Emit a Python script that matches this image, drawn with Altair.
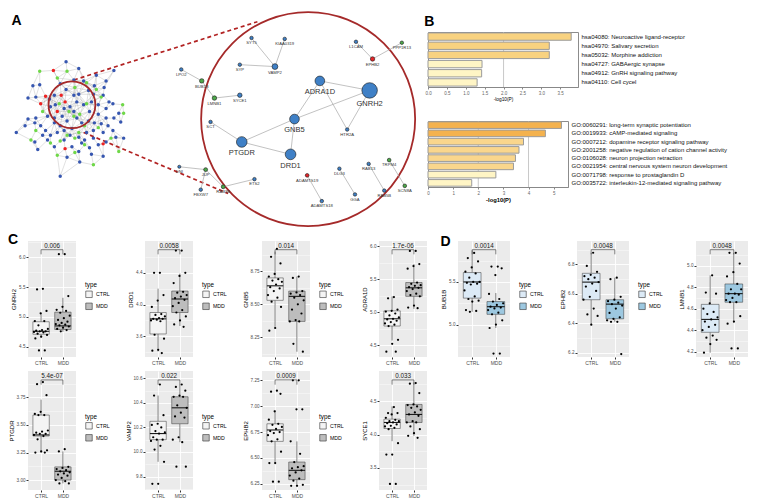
import altair as alt
import numpy as np
import pandas as pd

FONT = "Liberation Sans"

# ---------------- Panel A : PPI network (layout coordinates) ----------------
HAIR_BLUE = [(59,58),(72,65),(108,67),(90,72),(25,83),(32,82),(53,81),(59,87),(67,77),(77,78),
             (88,83),(98,85),(100,78),(20,96),(28,95),(42,97),(47,93),(67,93),(72,92),(82,88),
             (87,92),(97,93),(103,100),(43,105),(48,103),(57,107),(63,105),(70,100),(77,103),(85,100),
             (92,103),(100,107),(107,102),(113,112),(115,121),(108,117),(100,117),(92,113),(83,110),(67,110),
             (55,115),(47,117),(40,115),(28,117),(20,118),(17,125),(8,132),(27,122),(33,125),(38,130),
             (47,122),(53,125),(60,120),(70,117),(75,122),(82,120),(88,122),(95,123),(102,125),(107,130),
             (97,132),(87,130),(80,132),(65,128),(57,130),(50,132),(43,135),(40,140),(35,135),(27,142),
             (30,150),(47,147),(57,140),(63,135),(72,137),(78,140),(87,138),(92,145),(100,142),(110,137),
             (118,138),(75,143),(83,148),(65,147),(60,158),(72,152),(85,155),(97,157),(73,163),(53,178)]
HAIR_GREEN = [(32,68),(60,68),(50,75),(80,80),(68,85),(90,87),(52,102),(62,110),(80,102),(73,113),
              (67,115),(95,95),(117,103),(118,112),(35,110),(78,125),(92,127),(72,132),(28,130),(23,140),
              (43,143),(53,141),(60,135),(68,138),(78,145),(105,138),(113,152),(50,156),(68,153),(87,166)]
HAIR_RED = [(46,67),(38,94),(33,102),(54,93),(58,100),(50,110),(58,149),(97,144)]
HUB = (65, 103)          # centre of the highlighted cluster
ZOOM = (307, 118)        # centre of the enlarged view
DASH_FROM = [(67, 77), (77, 132)]
DASH_TO = [(255, 16), (225, 196)]

SUB_NAMES = ["SYT5","KIAA0319","SYP","VAMP2","L1CAM","EPHB2","PPP1R13","LPO2","BUB1B","LMNB1",
             "SYCE1","ADRA1D","GNRH2","HTR2A","GNB5","SCT","PTGDR","DRD1","ADAMTS19","ADAMTS18",
             "DLG3","GGA","RAB13","RAB5B","TRPM4","SCN8A","DNI","JUP","FBXW7","RAB3B","ETS2"]
SUB_X = [249,283,237,273,356,373,403,177,198,211,237,319,370,347,293,207,239,289,306,321,
         339,355,369,385,390,406,175,202,197,220,252]
SUB_Y = [33,34,61,63,37,55,38,66,78,96,93,78,88,129,118,121,142,155,177,204,
         170,197,165,193,161,188,168,171,192,189,181]
SUB_GROUP = ["blue","blue","blue","blue","blue","red","green","blue","green","green",
             "blue","blue","blue","blue","blue","blue","blue","blue","red","blue",
             "blue","blue","blue","blue","green","green","blue","green","blue","green","blue"]
SUB_RADIUS = [1.8,1.8,1.8,3.0,1.8,2.3,1.8,1.8,2.3,2.3,
              2.3,5.0,8.0,1.8,5.0,1.8,5.5,5.5,1.9,1.8,
              1.8,1.8,1.8,1.8,1.9,1.9,1.6,2.0,1.8,2.0,1.8]
SUB_EDGES = [("SYT5","VAMP2"),("KIAA0319","VAMP2"),("SYP","VAMP2"),("L1CAM","EPHB2"),("EPHB2","PPP1R13"),
             ("LPO2","BUB1B"),("BUB1B","LMNB1"),("LMNB1","SYCE1"),("ADRA1D","GNRH2"),("ADRA1D","HTR2A"),
             ("GNRH2","HTR2A"),("ADRA1D","GNB5"),("GNB5","GNRH2"),("GNB5","PTGDR"),("GNB5","DRD1"),
             ("PTGDR","DRD1"),("SCT","PTGDR"),("ADAMTS19","ADAMTS18"),("DLG3","GGA"),("RAB13","RAB5B"),
             ("TRPM4","SCN8A"),("DNI","JUP"),("JUP","FBXW7"),("JUP","RAB3B"),("RAB3B","ETS2")]

# ---------------- Panel B : enrichment ----------------
KEGG_TERMS = ["hsa04080: Neuroactive ligand-receptor", "hsa04970: Salivary secretion",
              "hsa05032: Morphine addiction", "hsa04727: GABAergic synapse",
              "hsa04912: GnRH signaling pathway", "hsa04110: Cell cycel"]
KEGG_P = [3.79, 3.21, 3.21, 1.43, 1.42, 1.30]
KEGG_TICKS = [0.0, 0.5, 1.0, 1.5, 2.0, 2.5, 3.0, 3.5]
KEGG_GRID = [2.0]
GO_TERMS = ["GO:0060291: long-term synaptic potentiation", "GO:0019933: cAMP-mediated signaling",
            "GO:0007212: dopamine receptor signaling pathway",
            "GO:2001258: negative regulation of cation channel activity",
            "GO:0106028: neuron projection retraction",
            "GO:0021954: central nervous system neuron development",
            "GO:0071798: response to prostaglandin D",
            "GO:0035722: interleukin-12-mediated signaling pathway"]
GO_P = [5.31, 4.67, 3.80, 3.62, 3.48, 3.40, 2.70, 1.74]
GO_TICKS = [0, 1, 2, 3, 4, 5]
GO_GRID = [2, 4]

# ---------------- Panels C / D : expression box plots ----------------
GNRH2_CTRL = [5.47,5.46,5.10,5.06,4.93,4.93,4.86,4.80,4.78,4.77,4.76,4.76,4.75,4.74,4.72,4.70,4.67,4.64,4.44,4.44]
GNRH2_MDD = [6.05,6.05,5.35,5.17,5.12,5.10,5.07,5.02,4.98,4.95,4.92,4.90,4.88,4.87,4.86,4.84,4.82,4.80,4.78,4.76]
GNRH2_BOX_CTRL = [4.65,4.71,4.76,4.92,5.07]
GNRH2_BOX_MDD = [4.75,4.79,4.85,5.08,5.32]

DRD1_CTRL = [4.40,4.40,4.12,4.05,3.97,3.88,3.87,3.85,3.83,3.82,3.82,3.81,3.80,3.79,3.62,3.57,3.43,3.42,3.39]
DRD1_MDD = [4.68,4.68,4.40,4.36,4.27,4.16,4.15,4.12,4.10,4.08,4.06,4.02,3.98,3.93,3.90,3.85,3.80,3.75,3.72]
DRD1_BOX_CTRL = [3.41,3.63,3.82,3.90,4.20]
DRD1_BOX_MDD = [3.73,3.90,4.07,4.17,4.39]

GNB5_CTRL = [8.92,8.86,8.81,8.73,8.71,8.69,8.68,8.67,8.65,8.63,8.62,8.60,8.57,8.55,8.52,8.48,8.32,8.30]
GNB5_MDD = [8.71,8.70,8.60,8.59,8.58,8.57,8.55,8.53,8.50,8.46,8.43,8.38,8.37,8.37,8.20,8.14]
GNB5_BOX_CTRL = [8.32,8.53,8.64,8.70,8.90]
GNB5_BOX_MDD = [8.14,8.37,8.56,8.60,8.71]

ADRA1D_CTRL = [5.23,5.21,5.04,5.02,5.01,4.98,4.95,4.92,4.90,4.89,4.87,4.85,4.83,4.81,4.79,4.58,4.52,4.40,4.40]
ADRA1D_MDD = [5.93,5.93,5.73,5.70,5.66,5.45,5.43,5.41,5.40,5.38,5.37,5.35,5.32,5.28,5.26,5.24,5.10,5.07,5.06]
ADRA1D_BOX_CTRL = [4.57,4.79,4.90,5.02,5.24]
ADRA1D_BOX_MDD = [5.05,5.24,5.37,5.45,5.73]

PTGDR_CTRL = [3.89,3.87,3.77,3.62,3.60,3.59,3.59,3.45,3.44,3.43,3.42,3.42,3.41,3.40,3.37,3.27,3.26,3.25,3.25]
PTGDR_MDD = [3.28,3.26,3.12,3.11,3.10,3.09,3.08,3.07,3.06,3.05,3.04,3.02,3.00,2.99,2.97,2.97]
PTGDR_BOX_CTRL = [3.25,3.40,3.41,3.59,3.73]
PTGDR_BOX_MDD = [2.97,3.00,3.08,3.12,3.26]

VAMP2_CTRL = [10.55,10.46,10.30,10.23,10.22,10.20,10.17,10.16,10.15,10.12,10.10,10.10,10.09,10.05,10.02,9.92,9.74,9.74]
VAMP2_MDD = [10.55,10.53,10.50,10.46,10.45,10.45,10.38,10.36,10.32,10.29,10.28,10.12,10.10,10.08,9.88,9.88]
VAMP2_BOX_CTRL = [9.92,10.10,10.15,10.25,10.46]
VAMP2_BOX_MDD = [10.08,10.23,10.36,10.45,10.55]

EPHB2C_CTRL = [7.15,7.14,7.12,6.95,6.87,6.83,6.82,6.80,6.78,6.76,6.75,6.74,6.72,6.68,6.66,6.56,6.45,6.45,6.27,6.27]
EPHB2C_MDD = [7.25,7.25,6.97,6.97,6.66,6.54,6.46,6.42,6.41,6.40,6.38,6.36,6.33,6.30,6.28,6.24,6.23,6.23]
EPHB2C_BOX_CTRL = [6.45,6.66,6.77,6.83,6.96]
EPHB2C_BOX_MDD = [6.23,6.29,6.38,6.46,6.66]

SYCE1_CTRL = [4.41,4.32,4.32,4.30,4.25,4.22,4.20,4.20,4.18,4.17,4.15,4.13,4.12,4.10,4.08,3.87,3.70,3.70,3.26,3.26]
SYCE1_MDD = [4.77,4.76,4.62,4.45,4.44,4.42,4.40,4.37,4.33,4.30,4.28,4.20,4.18,4.18,4.12,4.08,4.02,3.98,3.95]
SYCE1_BOX_CTRL = [3.90,4.09,4.18,4.23,4.42]
SYCE1_BOX_MDD = [3.98,4.18,4.30,4.45,4.78]

BUB1B_CTRL = [5.84,5.78,5.74,5.67,5.62,5.60,5.55,5.50,5.50,5.49,5.48,5.47,5.40,5.33,5.30,5.28,5.27,5.17,5.16,5.15]
BUB1B_MDD = [5.68,5.68,5.66,5.58,5.36,5.30,5.27,5.25,5.23,5.21,5.20,5.19,5.17,5.14,5.12,5.05,5.00,4.96,4.66,4.66]
BUB1B_BOX_CTRL = [5.15,5.31,5.50,5.61,5.87]
BUB1B_BOX_MDD = [4.96,5.12,5.21,5.27,5.37]

EPHB2D_CTRL = [6.88,6.79,6.75,6.73,6.72,6.71,6.70,6.68,6.67,6.65,6.62,6.58,6.56,6.50,6.46,6.45,6.39]
EPHB2D_MDD = [6.71,6.70,6.58,6.56,6.55,6.54,6.53,6.52,6.50,6.47,6.44,6.43,6.42,6.41,6.41,6.19]
EPHB2D_BOX_CTRL = [6.39,6.56,6.68,6.74,6.88]
EPHB2D_BOX_MDD = [6.41,6.43,6.53,6.56,6.71]

LMNB1_CTRL = [4.91,4.75,4.74,4.65,4.60,4.57,4.55,4.52,4.50,4.48,4.45,4.43,4.40,4.35,4.33,4.31,4.27,4.19]
LMNB1_MDD = [5.12,5.12,5.02,4.94,4.90,4.83,4.78,4.78,4.74,4.74,4.73,4.70,4.68,4.66,4.66,4.53,4.48,4.46,4.23,4.23]
LMNB1_BOX_CTRL = [4.19,4.38,4.50,4.64,4.91]
LMNB1_BOX_MDD = [4.47,4.66,4.74,4.83,5.12]

GROUPS = ["CTRL", "MDD"]
GREY_FILL = ["#F4F4F4", "#BDBDBD"]
BLUE_FILL = ["#DCEAF6", "#9DC8E0"]


def title(letter, offset=2, dx=0):
    return alt.TitleParams(text=letter, anchor="start", fontSize=14, fontWeight="bold",
                           font=FONT, color="black", offset=offset, dx=dx)


def indep(c):
    return c.resolve_scale(x="independent", y="independent", color="independent",
                           size="independent").resolve_legend(color="independent", size="independent")


# ---------------- build panel A ----------------
hair = [(x, y, "blue") for x, y in HAIR_BLUE] + [(x, y, "green") for x, y in HAIR_GREEN] + \
       [(x, y, "red") for x, y in HAIR_RED]
hx = np.array([p[0] for p in hair], float)
hy = np.array([p[1] for p in hair], float)
hair_df = pd.DataFrame({"x": hx, "y": hy, "grp": [p[2] for p in hair]})
seen = set()
rows = []
for i in range(len(hair)):
    d = np.hypot(hx - hx[i], hy - hy[i])
    k = 10 if np.hypot(hx[i] - HUB[0], hy[i] - HUB[1]) < 30 else 3
    for j in np.argsort(d)[1:k + 1]:
        key = (min(i, j), max(i, j))
        if key in seen:
            continue
        seen.add(key)
        rows.append({"x": hx[i], "y": hy[i], "x2": hx[j], "y2": hy[j]})
edge_df = pd.DataFrame(rows)
dash_df = pd.DataFrame({"x": [p[0] for p in DASH_FROM], "y": [p[1] for p in DASH_FROM],
                        "x2": [p[0] for p in DASH_TO], "y2": [p[1] for p in DASH_TO]})
sub_df = pd.DataFrame({"name": SUB_NAMES, "x": SUB_X, "y": SUB_Y, "grp": SUB_GROUP, "r": SUB_RADIUS})
pos = {n: (x, y) for n, x, y in zip(SUB_NAMES, SUB_X, SUB_Y)}
sub_edge_df = pd.DataFrame({"x": [pos[a][0] for a, b in SUB_EDGES], "y": [pos[a][1] for a, b in SUB_EDGES],
                            "x2": [pos[b][0] for a, b in SUB_EDGES], "y2": [pos[b][1] for a, b in SUB_EDGES]})

A_W, A_H = 392, 192
AX = alt.Scale(domain=[20, 421.6], nice=False, zero=False)
AY = alt.Scale(domain=[26.75, 228], nice=False, zero=False, reverse=True)


def ax(f):
    return alt.X(f, type="quantitative", scale=AX, axis=None)


def ay(f):
    return alt.Y(f, type="quantitative", scale=AY, axis=None)


a_edges = alt.Chart(edge_df).mark_rule(color="#9a9a9a", strokeWidth=0.4, opacity=0.75).encode(
    x=ax("x"), y=ay("y"), x2="x2", y2="y2")
a_dash = alt.Chart(dash_df).mark_rule(color="#B22222", strokeWidth=1.7, strokeDash=[4, 3]).encode(
    x=ax("x"), y=ay("y"), x2="x2", y2="y2")
a_nodes = alt.Chart(hair_df).mark_circle(size=12, opacity=1).encode(
    x=ax("x"), y=ay("y"),
    color=alt.Color("grp:N", scale=alt.Scale(domain=["blue", "green", "red"],
                                             range=["#3656B0", "#6FD848", "#EE2222"]), legend=None))
a_small = alt.Chart(pd.DataFrame({"x": [HUB[0]], "y": [HUB[1]]})).mark_point(
    shape="circle", filled=False, size=2200, color="#A52A2A", strokeWidth=1.8, opacity=1).encode(
    x=ax("x"), y=ay("y"))
a_big = alt.Chart(pd.DataFrame({"x": [ZOOM[0]], "y": [ZOOM[1]]})).mark_point(
    shape="circle", filled=False, size=45800, color="#A52A2A", strokeWidth=1.8, opacity=1).encode(
    x=ax("x"), y=ay("y"))
a_sub_edges = alt.Chart(sub_edge_df).mark_rule(color="#a8a8a8", strokeWidth=0.7).encode(
    x=ax("x"), y=ay("y"), x2="x2", y2="y2")
a_sub_nodes = alt.Chart(sub_df).mark_circle(opacity=1, stroke="#1a1a1a", strokeWidth=0.6).encode(
    x=ax("x"), y=ay("y"),
    color=alt.Color("grp:N", scale=alt.Scale(domain=["blue", "green", "red"],
                                             range=["#3F80C6", "#4DA84A", "#E3262A"]), legend=None),
    size=alt.Size("r:Q", scale=alt.Scale(type="pow", exponent=2, domain=[0, 8], range=[0, 240]), legend=None))
a_labels = alt.Chart(sub_df).transform_calculate(
    ylab="datum.y + (datum.r >= 5 ? datum.r + 6.5 : datum.r + 3.6)",
    fs="datum.r >= 5 ? 7.5 : 4.2").mark_text(font=FONT, color="#333333", baseline="middle").encode(
    x=ax("x"), y=ay("ylab"), text="name:N", size=alt.Size("fs:Q", scale=None))

panel_a = alt.layer(a_edges, a_dash, a_nodes, a_small, a_big, a_sub_edges, a_sub_nodes, a_labels).resolve_scale(
    color="independent", size="independent").properties(
    width=A_W, height=A_H, title=title("A", offset=-20, dx=-3), view=alt.ViewBackground(strokeWidth=0))

# ---------------- build panel B ----------------
b_yaxis = alt.Axis(orient="right", title=None, ticks=False, domain=False, labelFontSize=6,
                   labelColor="#111111", labelPadding=3, labelLimit=300, labelFont=FONT)


def bar_chart(terms, values, ticks, grid, xmax, fmt, thr, colors, w, h, tsize, tweight):
    xs = alt.Scale(domain=[0, xmax], nice=False, zero=True)
    xa = alt.Axis(values=ticks, format=fmt, title="-log10(P)", titleFontSize=tsize, titleFontWeight=tweight,
                  labelFontSize=4.5, labelColor="#666666", tickSize=2, tickColor="#888888",
                  domainColor="#888888", titlePadding=2, labelPadding=1, grid=False, labelFlush=False)
    g = alt.Chart(pd.DataFrame({"g": grid})).mark_rule(color="#c8c8c8", strokeWidth=1).encode(
        x=alt.X("g:Q", scale=xs, axis=xa))
    bars = alt.Chart(pd.DataFrame({"term": terms, "p": values})).mark_bar(
        stroke="#9b9b9b", strokeWidth=1).encode(
        x=alt.X("p:Q", scale=xs, axis=xa),
        y=alt.Y("term:N", sort=terms, scale=alt.Scale(paddingInner=0.2, paddingOuter=0.1), axis=b_yaxis),
        color=alt.Color("p:Q", scale=alt.Scale(type="threshold", domain=thr, range=colors), legend=None))
    return alt.layer(g, bars).properties(width=w, height=h,
                                         view=alt.ViewBackground(stroke="#8c8c8c", strokeWidth=1))


b1 = bar_chart(KEGG_TERMS, KEGG_P, KEGG_TICKS, KEGG_GRID, 3.97, ".1f", [2], ["#FFF5C5", "#F8D280"],
               150, 55, 4.8, "normal")
b2 = bar_chart(GO_TERMS, GO_P, GO_TICKS, GO_GRID, 5.57, "d", [3, 4.5], ["#FFF5C5", "#FAD68C", "#F4B24E"],
               140, 66, 5.8, "bold")
panel_b = indep(alt.vconcat(b1, b2, spacing=18, title=title("B")))


# ---------------- build box panels ----------------
def box_panel(gene, ctrl, mdd, box_c, box_m, pval, ydom, majors, step, fmt, colors, W, H, legend):
    stats = pd.DataFrame({"type": GROUPS, "pos": [1, 2],
                          "lo": [box_c[0], box_m[0]], "q1": [box_c[1], box_m[1]],
                          "med": [box_c[2], box_m[2]], "q3": [box_c[3], box_m[3]],
                          "hi": [box_c[4], box_m[4]]})
    pts = pd.DataFrame({"type": ["CTRL"] * len(ctrl) + ["MDD"] * len(mdd),
                        "pos": [1] * len(ctrl) + [2] * len(mdd), "value": ctrl + mdd})
    lo, hi = ydom
    span = hi - lo
    br = hi - 0.075 * span
    tk = br - 0.04 * span
    brk = pd.DataFrame({"xa": [1, 1, 2], "xb": [2, 1, 2], "ya": [br, br, br], "yb": [br, tk, tk]})
    lab = pd.DataFrame({"xm": [1.5], "ym": [br], "p": [pval]})
    test = f"abs(datum.value/{step} - round(datum.value/{step})) < 0.001"
    vals = set(round(m, 4) for m in majors)
    vals |= set(round(m + step / 2, 4) for m in majors)
    vals.add(round(majors[0] - step / 2, 4))
    vals = sorted(v for v in vals if lo <= v <= hi)
    yaxis = alt.Axis(title=gene, values=vals, labelExpr=f"{test} ? format(datum.value, '{fmt}') : ''",
                     titleFontSize=6, titleFontWeight="normal", titleColor="black", titlePadding=2,
                     labelFontSize=4.6, labelColor="#4D4D4D", labelPadding=1, labelFlush=False,
                     labelOverlap=False, domain=False, tickSize=2,
                     tickColor={"condition": {"test": test, "value": "#333333"}, "value": "rgba(0,0,0,0)"},
                     grid=True, gridColor="white",
                     gridWidth={"condition": {"test": test, "value": 0.9}, "value": 0.4})
    xaxis = alt.Axis(title=None, values=[1, 2], labelExpr="datum.value == 1 ? 'CTRL' : 'MDD'",
                     labelFontSize=5, labelColor="#4D4D4D", labelPadding=1, tickSize=2, tickColor="#333333",
                     domain=False, grid=True, gridColor="white", gridWidth=0.9, labelFlush=False)
    xs = alt.Scale(domain=[0.4, 2.6], nice=False, zero=False)
    ys = alt.Scale(domain=[lo, hi], nice=False, zero=False)

    def X(f):
        return alt.X(f, type="quantitative", scale=xs, axis=xaxis)

    def Y(f):
        return alt.Y(f, type="quantitative", scale=ys, axis=yaxis)

    if legend:
        leg = alt.Legend(title="type", orient="none", legendX=W + 9, legendY=H / 2 - 17,
                         titleFontSize=6.3, titleFontWeight="normal", titleColor="black",
                         labelFontSize=5.2, labelColor="black", symbolType="square", symbolSize=42,
                         symbolStrokeColor="#333333", symbolStrokeWidth=0.6, rowPadding=2,
                         titlePadding=2, labelOffset=3, titleFont=FONT, labelFont=FONT)
    else:
        leg = None
    wl = alt.Chart(stats).mark_rule(color="#333333", strokeWidth=0.6).encode(x=X("pos"), y=Y("lo"), y2="q1")
    wh = alt.Chart(stats).mark_rule(color="#333333", strokeWidth=0.6).encode(x=X("pos"), y=Y("q3"), y2="hi")
    box = alt.Chart(stats).transform_calculate(xl="datum.pos - 0.375", xr="datum.pos + 0.375").mark_bar(
        stroke="#333333", strokeWidth=0.5).encode(
        x=X("xl"), x2="xr", y=Y("q1"), y2="q3",
        color=alt.Color("type:N", scale=alt.Scale(domain=GROUPS, range=colors), legend=leg))
    med = alt.Chart(stats).transform_calculate(xl="datum.pos - 0.375", xr="datum.pos + 0.375").mark_rule(
        color="#1a1a1a", strokeWidth=1.1).encode(x=X("xl"), x2="xr", y=Y("med"))
    dots = alt.Chart(pts).transform_window(idx="row_number()", groupby=["type"]).transform_calculate(
        xj="datum.pos + ((datum.idx * 0.618034) % 1 - 0.5) * 0.7").mark_circle(
        size=5, color="black", opacity=1).encode(x=X("xj"), y=Y("value"))
    bk = alt.Chart(brk).mark_rule(color="#333333", strokeWidth=0.6).encode(x=X("xa"), x2="xb", y=Y("ya"), y2="yb")
    tx = alt.Chart(lab).mark_text(fontSize=6.3, baseline="bottom", dy=-0.5, font=FONT, color="#1a1a1a").encode(
        x=X("xm"), y=Y("ym"), text="p:N")
    return alt.layer(wl, wh, box, med, dots, bk, tx).properties(
        width=W, height=H, view=alt.ViewBackground(fill="#EBEBEB", strokeWidth=0))


H1, H2 = 116, 119
WC, WD = 48, 52
c1 = box_panel("GNRH2", GNRH2_CTRL, GNRH2_MDD, GNRH2_BOX_CTRL, GNRH2_BOX_MDD, "0.006",
               (4.33, 6.27), [4.5, 5.0, 5.5, 6.0], 0.5, ".1f", GREY_FILL, WC, H1, True)
c2 = box_panel("DRD1", DRD1_CTRL, DRD1_MDD, DRD1_BOX_CTRL, DRD1_BOX_MDD, "0.0058",
               (3.34, 4.80), [3.6, 4.0, 4.4], 0.4, ".1f", GREY_FILL, WC, H1, True)
c3 = box_panel("GNB5", GNB5_CTRL, GNB5_MDD, GNB5_BOX_CTRL, GNB5_BOX_MDD, "0.014",
               (8.10, 8.98), [8.25, 8.5, 8.75], 0.25, ".2f", GREY_FILL, WC, H1, True)
c4 = box_panel("ADRA1D", ADRA1D_CTRL, ADRA1D_MDD, ADRA1D_BOX_CTRL, ADRA1D_BOX_MDD, "1.7e-06",
               (4.32, 6.08), [4.5, 5.0, 5.5, 6.0], 0.5, ".1f", GREY_FILL, WC, H1, False)
c5 = box_panel("PTGDR", PTGDR_CTRL, PTGDR_MDD, PTGDR_BOX_CTRL, PTGDR_BOX_MDD, "5.4e-07",
               (2.91, 3.99), [3.0, 3.25, 3.5, 3.75], 0.25, ".2f", GREY_FILL, WC, H2, True)
c6 = box_panel("VAMP2", VAMP2_CTRL, VAMP2_MDD, VAMP2_BOX_CTRL, VAMP2_BOX_MDD, "0.022",
               (9.69, 10.66), [9.8, 10.0, 10.2, 10.4, 10.6], 0.2, ".1f", GREY_FILL, WC, H2, True)
c7 = box_panel("EPHB2", EPHB2C_CTRL, EPHB2C_MDD, EPHB2C_BOX_CTRL, EPHB2C_BOX_MDD, "0.0009",
               (6.19, 7.34), [6.25, 6.5, 6.75, 7.0, 7.25], 0.25, ".2f", GREY_FILL, WC, H2, True)
c8 = box_panel("SYCE1", SYCE1_CTRL, SYCE1_MDD, SYCE1_BOX_CTRL, SYCE1_BOX_MDD, "0.033",
               (3.17, 4.95), [3.5, 4.0, 4.5], 0.5, ".1f", GREY_FILL, WC, H2, False)
d1 = box_panel("BUB1B", BUB1B_CTRL, BUB1B_MDD, BUB1B_BOX_CTRL, BUB1B_BOX_MDD, "0.0014",
               (4.62, 5.98), [5.0, 5.5], 0.5, ".1f", BLUE_FILL, WD, H1, True)
d2 = box_panel("EPHB2", EPHB2D_CTRL, EPHB2D_MDD, EPHB2D_BOX_CTRL, EPHB2D_BOX_MDD, "0.0048",
               (6.17, 6.96), [6.2, 6.4, 6.6, 6.8], 0.2, ".1f", BLUE_FILL, WD, H1, True)
d3 = box_panel("LMNB1", LMNB1_CTRL, LMNB1_MDD, LMNB1_BOX_CTRL, LMNB1_BOX_MDD, "0.0048",
               (4.15, 5.23), [4.2, 4.4, 4.6, 4.8, 5.0], 0.2, ".1f", BLUE_FILL, WD, H1, False)

row1 = indep(alt.hconcat(c1, c2, c3, c4, spacing=69, bounds="flush"))
row2 = indep(alt.hconcat(c5, c6, c7, c8, spacing=69, bounds="flush"))
panel_c = indep(alt.vconcat(row1, row2, spacing=6, title=title("C", offset=-8)))
panel_d = indep(alt.hconcat(d1, d2, d3, spacing=67, bounds="flush", title=title("D", offset=-8)))

top = indep(alt.hconcat(panel_a, panel_b, spacing=4))
bottom = indep(alt.hconcat(panel_c, panel_d, spacing=13))
chart = indep(alt.vconcat(top, bottom, spacing=3)).properties(padding=0, background="white")
chart = chart.configure(font=FONT).configure_view(strokeWidth=0).configure_axis(
    labelFont=FONT, titleFont=FONT)

chart.save("out.html", embed_options={"renderer": "svg", "actions": False})
